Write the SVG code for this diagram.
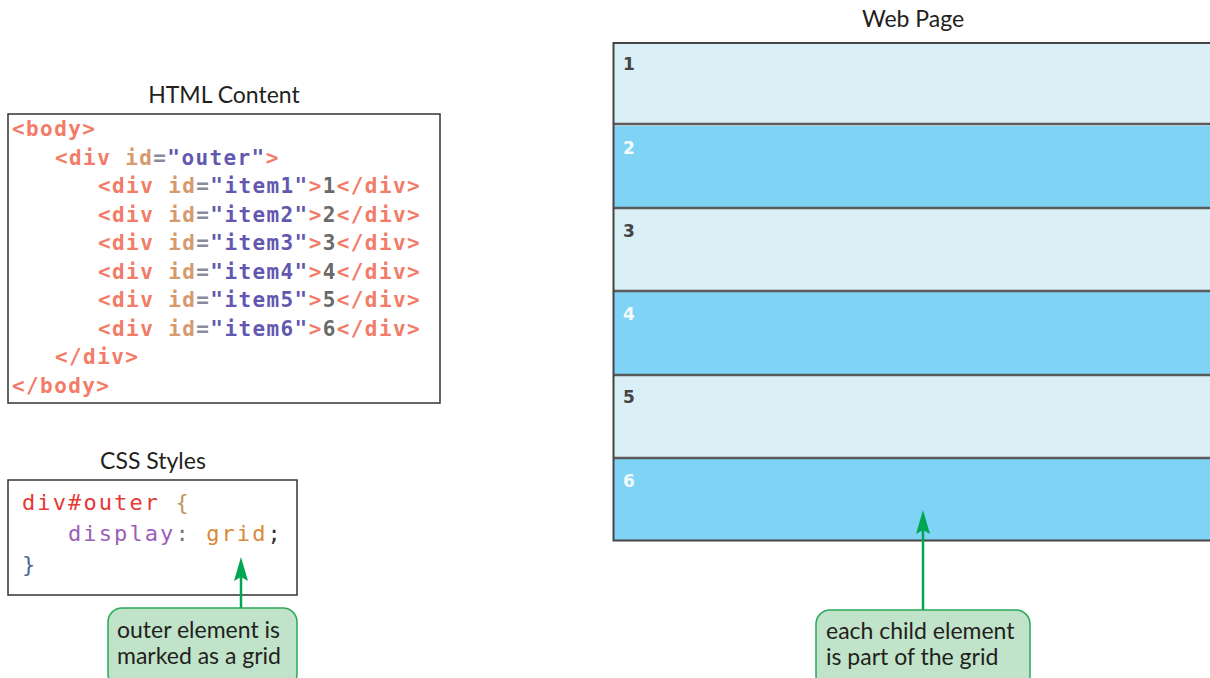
<svg xmlns="http://www.w3.org/2000/svg" width="1210" height="678" viewBox="0 0 1210 678">
  <style>
    .title { font-family: Lato, "Noto Sans", sans-serif; font-size: 23px; fill: #231f20; text-anchor: middle; }
    .frame { fill: #ffffff; stroke: #333333; stroke-width: 1.5; }
    .code { font-family: "DejaVu Sans Mono", "Liberation Mono", monospace; font-size: 21px; font-weight: bold; letter-spacing: 1.4px; }
    .css { font-family: "DejaVu Sans Mono", "Liberation Mono", monospace; font-size: 22px; letter-spacing: 2.1px; }
    .tag { fill: #f27c68; }
    .attr { fill: #d79a6e; }
    .eq { fill: #8a8a9a; }
    .val { fill: #6258b0; }
    .num { fill: #6a6a6a; }
    .light { fill: #dbeff6; }
    .dark { fill: #7fd3f5; }
    .sep { stroke: #5a5a5a; stroke-width: 2.5; }
    .cell { font-family: "DejaVu Sans", sans-serif; font-size: 17px; font-weight: bold; }
    .callout { fill: #c0e3c9; stroke: #2aa85a; stroke-width: 1.5; }
    .note { font-family: Lato, "Noto Sans", sans-serif; font-size: 23px; fill: #231f20; }
    .link { stroke: #00a651; stroke-width: 2.5; fill: none; }
  </style>
  <defs>
    <marker id="arrow" markerWidth="14" markerHeight="24" refX="7" refY="8" orient="0" markerUnits="userSpaceOnUse" viewBox="0 0 14 24">
      <path d="M7,0 L14,24 L7,20 L0,24 Z" fill="#00a651"/>
    </marker>
  </defs>

  <!-- HTML source panel -->
  <g id="html-content">
    <text class="title" x="224" y="103">HTML Content</text>
    <rect class="frame" x="8" y="114" width="432" height="289"/>
    <text class="code" x="12" y="136"><tspan class="tag">&lt;body&gt;</tspan></text>
    <text class="code" x="55" y="165"><tspan class="tag">&lt;div </tspan><tspan class="attr">id</tspan><tspan class="eq">=</tspan><tspan class="val">"outer"</tspan><tspan class="tag">&gt;</tspan></text>
    <text class="code" x="98" y="193"><tspan class="tag">&lt;div </tspan><tspan class="attr">id</tspan><tspan class="eq">=</tspan><tspan class="val">"item1"</tspan><tspan class="tag">&gt;</tspan><tspan class="num">1</tspan><tspan class="tag">&lt;/div&gt;</tspan></text>
    <text class="code" x="98" y="222"><tspan class="tag">&lt;div </tspan><tspan class="attr">id</tspan><tspan class="eq">=</tspan><tspan class="val">"item2"</tspan><tspan class="tag">&gt;</tspan><tspan class="num">2</tspan><tspan class="tag">&lt;/div&gt;</tspan></text>
    <text class="code" x="98" y="250"><tspan class="tag">&lt;div </tspan><tspan class="attr">id</tspan><tspan class="eq">=</tspan><tspan class="val">"item3"</tspan><tspan class="tag">&gt;</tspan><tspan class="num">3</tspan><tspan class="tag">&lt;/div&gt;</tspan></text>
    <text class="code" x="98" y="279"><tspan class="tag">&lt;div </tspan><tspan class="attr">id</tspan><tspan class="eq">=</tspan><tspan class="val">"item4"</tspan><tspan class="tag">&gt;</tspan><tspan class="num">4</tspan><tspan class="tag">&lt;/div&gt;</tspan></text>
    <text class="code" x="98" y="307"><tspan class="tag">&lt;div </tspan><tspan class="attr">id</tspan><tspan class="eq">=</tspan><tspan class="val">"item5"</tspan><tspan class="tag">&gt;</tspan><tspan class="num">5</tspan><tspan class="tag">&lt;/div&gt;</tspan></text>
    <text class="code" x="98" y="336"><tspan class="tag">&lt;div </tspan><tspan class="attr">id</tspan><tspan class="eq">=</tspan><tspan class="val">"item6"</tspan><tspan class="tag">&gt;</tspan><tspan class="num">6</tspan><tspan class="tag">&lt;/div&gt;</tspan></text>
    <text class="code" x="55" y="364"><tspan class="tag">&lt;/div&gt;</tspan></text>
    <text class="code" x="12" y="393"><tspan class="tag">&lt;/body&gt;</tspan></text>
  </g>

  <!-- CSS source panel -->
  <g id="css-styles">
    <text class="title" x="153" y="469">CSS Styles</text>
    <rect class="frame" x="8" y="480" width="289" height="115"/>
    <text class="css" x="22" y="510"><tspan fill="#e53935">div#outer </tspan><tspan fill="#b89a5a">{</tspan></text>
    <text class="css" x="68" y="541"><tspan fill="#9b5fb8">display</tspan><tspan fill="#777777">: </tspan><tspan fill="#d9893a">grid</tspan><tspan fill="#333333">;</tspan></text>
    <text class="css" x="22" y="572"><tspan fill="#4a6898">}</tspan></text>
  </g>

  <!-- Rendered page: six stacked grid rows -->
  <g id="web-page">
    <text class="title" x="913" y="27">Web Page</text>
    <rect class="light" x="613" y="43" width="600" height="83"/>
    <rect class="dark" x="613" y="126" width="600" height="83"/>
    <rect class="light" x="613" y="209" width="600" height="83"/>
    <rect class="dark" x="613" y="292" width="600" height="83"/>
    <rect class="light" x="613" y="375" width="600" height="83"/>
    <rect class="dark" x="613" y="458" width="600" height="83"/>
    <line class="sep" x1="613" y1="124" x2="1210" y2="124"/>
    <line class="sep" x1="613" y1="208" x2="1210" y2="208"/>
    <line class="sep" x1="613" y1="291" x2="1210" y2="291"/>
    <line class="sep" x1="613" y1="375" x2="1210" y2="375"/>
    <line class="sep" x1="613" y1="458" x2="1210" y2="458"/>
    <path d="M1212,43 H613.5 V540.5 H1212" fill="none" stroke="#444444" stroke-width="2"/>
    <text class="cell" x="623" y="70" fill="#444444">1</text>
    <text class="cell" x="623" y="154" fill="#f4fbff">2</text>
    <text class="cell" x="623" y="237" fill="#444444">3</text>
    <text class="cell" x="623" y="320" fill="#f4fbff">4</text>
    <text class="cell" x="623" y="403" fill="#444444">5</text>
    <text class="cell" x="623" y="487" fill="#f4fbff">6</text>
  </g>

  <!-- Callout pointers -->
  <g id="connectors">
    <line class="link" x1="241" y1="608" x2="241" y2="565" marker-end="url(#arrow)"/>
    <line class="link" x1="923" y1="610" x2="923" y2="518" marker-end="url(#arrow)"/>
  </g>

  <g id="note-grid">
    <rect class="callout" x="108" y="608" width="189" height="80" rx="14"/>
    <text class="note" x="117" y="638">outer element is</text>
    <text class="note" x="117" y="664">marked as a grid</text>
  </g>

  <g id="note-children">
    <rect class="callout" x="816" y="610" width="214" height="80" rx="14"/>
    <text class="note" x="826" y="639">each child element</text>
    <text class="note" x="826" y="665">is part of the grid</text>
  </g>
</svg>
